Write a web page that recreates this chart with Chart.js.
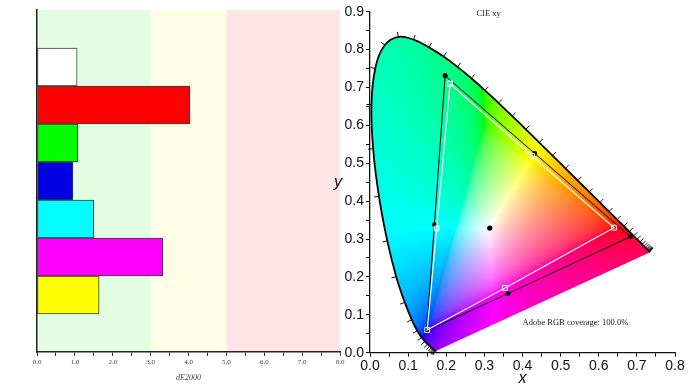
<!DOCTYPE html>
<html><head><meta charset="utf-8">
<script src="https://cdn.jsdelivr.net/npm/chart.js@4/dist/chart.umd.min.js"></script>
<style>
html,body{margin:0;padding:0;background:#fff;width:693px;height:390px;overflow:hidden}
#cL{position:absolute;left:0;top:0}
#cR{position:absolute;left:330px;top:0}
</style></head><body>
<canvas id="cL" width="350" height="390"></canvas>
<canvas id="cR" width="363" height="390"></canvas>
<script>
// ---------- Left chart data (dE2000 per patch) ----------
const patchLabels = ['', 'White', 'Red', 'Green', 'Blue', 'Cyan', 'Magenta', 'Yellow', ''];
const deltaE = [null, 1.06, 4.04, 1.08, 0.95, 1.50, 3.32, 1.64, null];
const barColors = ['#ffffff', '#ffffff', '#ff0000', '#00ff00', '#0000e0', '#00ffff', '#ff00ff', '#ffff00', '#ffffff'];
const bandEdges = [0, 3, 5, 8];
const bandColors = ['#e3fde3', '#fefee6', '#ffe5e5'];
const dETickLabels = ['0.0', '1.0', '2.0', '3.0', '4.0', '5.0', '6.0', '7.0', '8.0'];

// ---------- Right chart data (CIE 1931 xy) ----------
const wavelengths = [380,385,390,395,400,405,410,415,420,425,430,435,440,445,450,455,460,465,470,475,480,485,490,495,500,505,510,515,520,525,530,535,540,545,550,555,560,565,570,575,580,585,590,595,600,605,610,615,620,625,630,635,640,645,650,655,660,665,670,675,680,685,690,695,700];
const locusX = [0.1741,0.1740,0.1738,0.1736,0.1733,0.1730,0.1726,0.1721,0.1714,0.1703,0.1689,0.1669,0.1644,0.1611,0.1566,0.1510,0.1440,0.1355,0.1241,0.1096,0.0913,0.0687,0.0454,0.0235,0.0082,0.0039,0.0139,0.0389,0.0743,0.1142,0.1547,0.1929,0.2296,0.2658,0.3016,0.3373,0.3731,0.4087,0.4441,0.4788,0.5125,0.5448,0.5752,0.6029,0.6270,0.6482,0.6658,0.6801,0.6915,0.7006,0.7079,0.7140,0.7190,0.7230,0.7260,0.7283,0.7300,0.7311,0.7320,0.7327,0.7334,0.7340,0.7344,0.7346,0.7347];
const locusY = [0.0050,0.0050,0.0049,0.0049,0.0048,0.0048,0.0048,0.0048,0.0051,0.0058,0.0069,0.0086,0.0109,0.0138,0.0177,0.0227,0.0297,0.0399,0.0578,0.0868,0.1327,0.2007,0.2950,0.4127,0.5384,0.6548,0.7502,0.8120,0.8338,0.8262,0.8059,0.7816,0.7543,0.7243,0.6923,0.6589,0.6245,0.5896,0.5547,0.5202,0.4866,0.4544,0.4242,0.3965,0.3725,0.3514,0.3340,0.3197,0.3083,0.2993,0.2920,0.2859,0.2809,0.2770,0.2740,0.2717,0.2700,0.2689,0.2680,0.2673,0.2666,0.2660,0.2656,0.2654,0.2653];
// Target (Adobe RGB) polygon: G, Y, R, M, B, C, G
const targetX = [0.210, 0.425, 0.640, 0.354, 0.150, 0.175, 0.210];
const targetY = [0.710, 0.519, 0.330, 0.171, 0.060, 0.328, 0.710];
// Measured polygon: G, Y, R, M, B, C, G
const measuredX = [0.197, 0.432, 0.683, 0.362, 0.149, 0.169, 0.197];
const measuredY = [0.731, 0.526, 0.306, 0.156, 0.058, 0.338, 0.731];
const whitePointX = [0.314];
const whitePointY = [0.329];
const cieXTickLabels = ['0.0','0.1','0.2','0.3','0.4','0.5','0.6','0.7','0.8'];
const cieYTickLabels = ['0.0','0.1','0.2','0.3','0.4','0.5','0.6','0.7','0.8','0.9'];

const pts = (xs, ys) => xs.map((x, i) => ({x, y: ys[i]}));

// ---------- Left chart ----------
const bandPlugin = {
  id: 'bands',
  beforeDraw(chart) {
    const {ctx, chartArea: a, scales: {x}} = chart;
    ctx.save();
    for (let i = 0; i < bandColors.length; i++) {
      const x0 = x.getPixelForValue(bandEdges[i]);
      const x1 = x.getPixelForValue(bandEdges[i + 1]);
      ctx.fillStyle = bandColors[i];
      ctx.fillRect(x0, a.top, x1 - x0, a.bottom - a.top);
    }
    ctx.restore();
  }
};

new Chart(document.getElementById('cL'), {
  type: 'bar',
  data: {
    labels: patchLabels,
    datasets: [{
      data: deltaE,
      backgroundColor: barColors,
      borderColor: '#3c3c3c',
      borderWidth: 1,
      borderSkipped: false,
      barPercentage: 1,
      categoryPercentage: 1
    }]
  },
  options: {
    indexAxis: 'y',
    responsive: false,
    animation: false,
    events: [],
    layout: {padding: {top: 10, right: 10, left: 0, bottom: 0}},
    plugins: {legend: {display: false}, tooltip: {enabled: false}},
    scales: {
      x: {
        min: 0, max: 8,
        afterFit(s) { s.height = 38; },
        ticks: {
          stepSize: 0.5, autoSkip: false, maxRotation: 0, padding: 2,
          color: '#444',
          font: {family: 'Liberation Serif', size: 7},
          callback: (v) => { const i = Math.round(v * 2); return i % 2 === 0 ? dETickLabels[i / 2] : ''; }
        },
        grid: {drawOnChartArea: false, drawTicks: true, tickLength: 4, color: '#333', lineWidth: 1},
        border: {display: true, color: '#222', width: 1.5},
        title: {display: true, text: 'dE2000', color: '#444',
          font: {family: 'Liberation Serif', size: 8, style: 'italic'},
          padding: {top: 0, bottom: 7}}
      },
      y: {
        afterFit(s) { s.width = 37; },
        ticks: {display: false},
        grid: {display: false},
        border: {display: true, color: '#222', width: 1.5}
      }
    }
  },
  plugins: [bandPlugin]
});

// ---------- Right chart ----------
function xyToRGB(x, y) {
  if (y < 0.001) y = 0.001;
  const X = x / y, Y = 1, Z = (1 - x - y) / y;
  let r = 3.2406 * X - 1.5372 * Y - 0.4986 * Z;
  let g = -0.9689 * X + 1.8758 * Y + 0.0415 * Z;
  let b = 0.0557 * X - 0.2040 * Y + 1.0570 * Z;
  const mn = Math.min(r, g, b);
  if (mn < 0) { r -= mn; g -= mn; b -= mn; }
  const m = Math.max(r, g, b) || 1;
  return [r / m, g / m, b / m].map(v => Math.round(255 * (v <= 0.0031308 ? 12.92 * v : 1.055 * Math.pow(v, 1 / 2.4) - 0.055)));
}

const gamutPlugin = {
  id: 'gamut',
  beforeDraw(chart) {
    const {ctx, chartArea: a, scales: {x: sx, y: sy}} = chart;
    const w = Math.ceil(a.right - a.left), h = Math.ceil(a.bottom - a.top);
    const off = document.createElement('canvas');
    off.width = w; off.height = h;
    const octx = off.getContext('2d');
    const img = octx.createImageData(w, h);
    for (let j = 0; j < h; j++) {
      const yv = sy.getValueForPixel(a.top + j + 0.5);
      for (let i = 0; i < w; i++) {
        const xv = sx.getValueForPixel(a.left + i + 0.5);
        const c = xyToRGB(xv, yv);
        const k = (j * w + i) * 4;
        img.data[k] = c[0]; img.data[k + 1] = c[1]; img.data[k + 2] = c[2]; img.data[k + 3] = 255;
      }
    }
    octx.putImageData(img, 0, 0);
    const line = chart.getDatasetMeta(0).dataset;
    line.updateControlPoints(a, 'x');
    ctx.save();
    ctx.beginPath();
    line.path(ctx);
    ctx.closePath();
    ctx.clip();
    ctx.drawImage(off, a.left, a.top);
    ctx.restore();
  },
  afterDatasetsDraw(chart) {
    // wavelength tick marks along the spectral locus
    const {ctx, scales: {x: sx, y: sy}} = chart;
    const cx = sx.getPixelForValue(0.33), cy = sy.getPixelForValue(0.33);
    ctx.save();
    ctx.strokeStyle = '#111';
    ctx.lineWidth = 1;
    for (let i = 1; i < wavelengths.length - 1; i++) {
      const px = sx.getPixelForValue(locusX[i]), py = sy.getPixelForValue(locusY[i]);
      const tx = sx.getPixelForValue(locusX[i + 1]) - sx.getPixelForValue(locusX[i - 1]);
      const ty = sy.getPixelForValue(locusY[i + 1]) - sy.getPixelForValue(locusY[i - 1]);
      const len = Math.hypot(tx, ty);
      if (len < 0.6) continue;
      let nx = -ty / len, ny = tx / len;
      if (nx * (px - cx) + ny * (py - cy) < 0) { nx = -nx; ny = -ny; }
      ctx.beginPath();
      ctx.moveTo(px, py);
      ctx.lineTo(px + nx * 5, py + ny * 5);
      ctx.stroke();
    }
    ctx.restore();
  },
  afterDraw(chart) {
    const {ctx, scales: {x: sx, y: sy}} = chart;
    ctx.save();
    ctx.fillStyle = '#222';
    ctx.textBaseline = 'middle';
    ctx.font = '8.5px "Liberation Serif"';
    ctx.textAlign = 'center';
    ctx.fillText('CIE xy', sx.getPixelForValue(0.311), sy.getPixelForValue(0.895));
    ctx.textAlign = 'left';
    ctx.fillText('Adobe RGB coverage: 100.0%', sx.getPixelForValue(0.40), sy.getPixelForValue(0.079));
    ctx.fillStyle = '#111';
    ctx.font = 'italic 16px "Liberation Sans"';
    ctx.textAlign = 'center';
    ctx.fillText('y', 8, sy.getPixelForValue(0.45));
    ctx.restore();
  }
};

new Chart(document.getElementById('cR'), {
  type: 'scatter',
  data: {
    datasets: [
      {data: pts(locusX, locusY), showLine: true, borderColor: '#000', borderWidth: 1.8, pointRadius: 0, fill: false, tension: 0.4},
      {data: pts(targetX, targetY), showLine: true, borderColor: '#ffffff', borderWidth: 1.2,
        pointStyle: 'rect', pointRadius: 3.4, pointBorderColor: '#ffffff', pointBorderWidth: 1,
        pointBackgroundColor: 'rgba(0,0,0,0)'},
      {data: pts(measuredX, measuredY), showLine: true, borderColor: '#000', borderWidth: 1,
        pointRadius: 2.4, pointBackgroundColor: '#000', pointBorderColor: '#000', pointBorderWidth: 0},
      {data: pts(whitePointX, whitePointY), showLine: false, pointRadius: 2.6,
        pointBackgroundColor: '#000', pointBorderColor: '#000', pointBorderWidth: 0}
    ]
  },
  options: {
    responsive: false,
    animation: false,
    events: [],
    layout: {padding: {top: 11.7, right: 18, left: 0, bottom: 0}},
    plugins: {legend: {display: false}, tooltip: {enabled: false}},
    scales: {
      x: {
        type: 'linear', min: 0, max: 0.8,
        afterFit(s) { s.height = 37.3; },
        ticks: {
          stepSize: 0.05, autoSkip: false, maxRotation: 0, padding: 1,
          color: '#111', font: {family: 'Liberation Sans', size: 14},
          callback: (v) => { const i = Math.round(v * 20); return i % 2 === 0 ? cieXTickLabels[i / 2] : ''; }
        },
        grid: {drawOnChartArea: false, drawTicks: true, tickLength: 4, color: '#111', lineWidth: 1},
        border: {display: true, color: '#111', width: 1.3},
        title: {display: true, text: 'x', color: '#111',
          font: {family: 'Liberation Sans', size: 16, style: 'italic'},
          padding: {top: 0, bottom: 2}}
      },
      y: {
        type: 'linear', min: 0, max: 0.9,
        afterFit(s) { s.width = 40; },
        ticks: {
          stepSize: 0.05, autoSkip: false, padding: 2,
          color: '#111', font: {family: 'Liberation Sans', size: 14},
          callback: (v) => { const i = Math.round(v * 20); return i % 2 === 0 ? cieYTickLabels[i / 2] : ''; }
        },
        grid: {drawOnChartArea: false, drawTicks: true, tickLength: 4, color: '#111', lineWidth: 1},
        border: {display: true, color: '#111', width: 1.3}
      }
    }
  },
  plugins: [gamutPlugin]
});
</script>
</body></html>
